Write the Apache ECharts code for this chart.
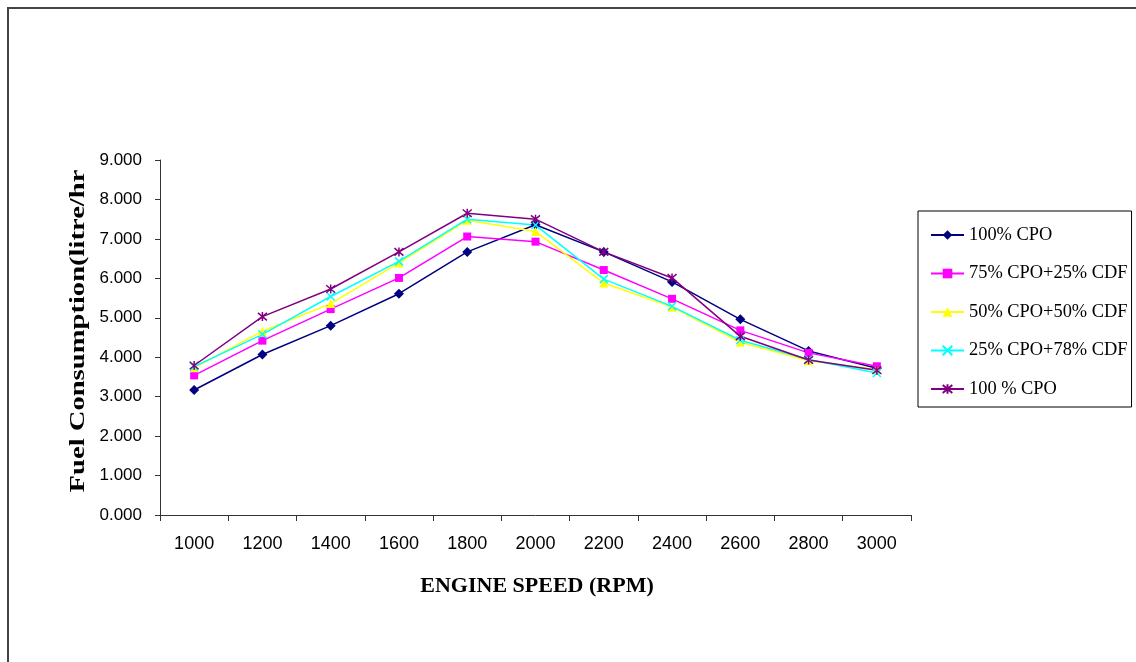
<!DOCTYPE html>
<html>
<head>
<meta charset="utf-8">
<title>Fuel Consumption vs Engine Speed</title>
<script src="https://cdn.jsdelivr.net/npm/echarts@6/dist/echarts.min.js"></script>
<style>
  html, body { margin: 0; padding: 0; background: #fff; }
  #fuelChart { width: 1136px; height: 662px; }
</style>
</head>
<body>
<div id="fuelChart"></div>
<script>
// 横轴：发动机转速
const speeds = ["1000", "1200", "1400", "1600", "1800", "2000", "2200", "2400", "2600", "2800", "3000"];
const yTicks = [0, 9, 1]; // min, max, interval

// 各燃料配比的油耗 (litre/hr)
const cpo100 = [3.17, 4.07, 4.80, 5.61, 6.67, 7.36, 6.67, 5.91, 4.96, 4.16, 3.72];
const cpo75cdf25 = [3.54, 4.42, 5.22, 6.01, 7.06, 6.93, 6.21, 5.48, 4.68, 4.11, 3.77];
const cpo50cdf50 = [3.73, 4.66, 5.36, 6.39, 7.47, 7.19, 5.88, 5.27, 4.38, 3.91, 3.69];
const cpo25cdf78 = [3.76, 4.58, 5.54, 6.43, 7.50, 7.35, 5.98, 5.29, 4.43, 3.94, 3.60];
const cpo100b = [3.79, 5.03, 5.73, 6.67, 7.65, 7.50, 6.67, 6.01, 4.53, 3.93, 3.67];

const seriesNames = ["100% CPO", "75% CPO+25% CDF", "50% CPO+50% CDF", "25% CPO+78% CDF", "100 % CPO"];

const crossPath = "path://M0,0L10,10M10,0L0,10";
const starPath = "path://M0,0L10,10M10,0L0,10M5,-1L5,11";

function makeLine(name, data, color, symbol, size, stroked) {
  return {
    name: name,
    type: "line",
    data: data,
    symbol: symbol,
    symbolSize: size,
    showAllSymbol: true,
    lineStyle: { color: color, width: 1.5 },
    itemStyle: stroked
      ? { color: "transparent", borderColor: color, borderWidth: 1.5 }
      : { color: color, borderWidth: 0 },
    emphasis: { disabled: true }
  };
}

const myChart = echarts.init(document.getElementById("fuelChart"));
const option = {
  animation: false,
  backgroundColor: "#fff",
  grid: { left: 160, right: 225, top: 160, bottom: 147 },
  legend: {
    orient: "vertical",
    left: 918,
    top: 211,
    padding: [15, 4, 9, 12],
    itemWidth: 33,
    itemHeight: 12,
    itemGap: 20.5,
    borderColor: "#000",
    borderWidth: 1,
    textStyle: { fontFamily: "Liberation Serif", fontSize: 18.4, color: "#000" },
    data: seriesNames
  },
  xAxis: {
    type: "category",
    data: speeds,
    boundaryGap: true,
    axisLine: { lineStyle: { color: "#333", width: 1 } },
    axisTick: { show: true, length: 6, inside: false, lineStyle: { color: "#333" } },
    axisLabel: { margin: 20, color: "#000", fontFamily: "Liberation Sans", fontSize: 18 },
    splitLine: { show: false }
  },
  yAxis: {
    type: "value",
    min: yTicks[0],
    max: yTicks[1],
    interval: yTicks[2],
    axisLine: { show: true, lineStyle: { color: "#333", width: 1 } },
    axisTick: { show: true, length: 5, lineStyle: { color: "#333" } },
    axisLabel: {
      margin: 18,
      color: "#000",
      fontFamily: "Liberation Sans",
      fontSize: 17,
      formatter: function (v) { return v.toFixed(3); }
    },
    splitLine: { show: false }
  },
  graphic: [
    {
      // 外边框
      type: "rect",
      silent: true,
      shape: { x: 8, y: 8, width: 1140, height: 700 },
      style: { fill: "none", stroke: "#444", lineWidth: 2 }
    },
    {
      type: "text",
      silent: true,
      x: 78,
      y: 331,
      rotation: Math.PI / 2,
      scaleX: 1.3,
      style: {
        text: "Fuel Consumption(litre/hr",
        font: "bold 22px 'Liberation Serif'",
        fill: "#000",
        align: "center",
        verticalAlign: "middle"
      }
    },
    {
      type: "text",
      silent: true,
      x: 537,
      y: 586,
      style: {
        text: "ENGINE SPEED (RPM)",
        font: "bold 22px 'Liberation Serif'",
        fill: "#000",
        align: "center",
        verticalAlign: "middle"
      }
    }
  ],
  series: [
    makeLine(seriesNames[0], cpo100, "#000080", "diamond", 10, false),
    makeLine(seriesNames[1], cpo75cdf25, "#FF00FF", "rect", 8, false),
    makeLine(seriesNames[2], cpo50cdf50, "#FFFF00", "triangle", 9, false),
    makeLine(seriesNames[3], cpo25cdf78, "#00FFFF", crossPath, 8, true),
    makeLine(seriesNames[4], cpo100b, "#800080", starPath, 9, true)
  ]
};
myChart.clear();
myChart.setOption(option);
</script>
</body>
</html>
